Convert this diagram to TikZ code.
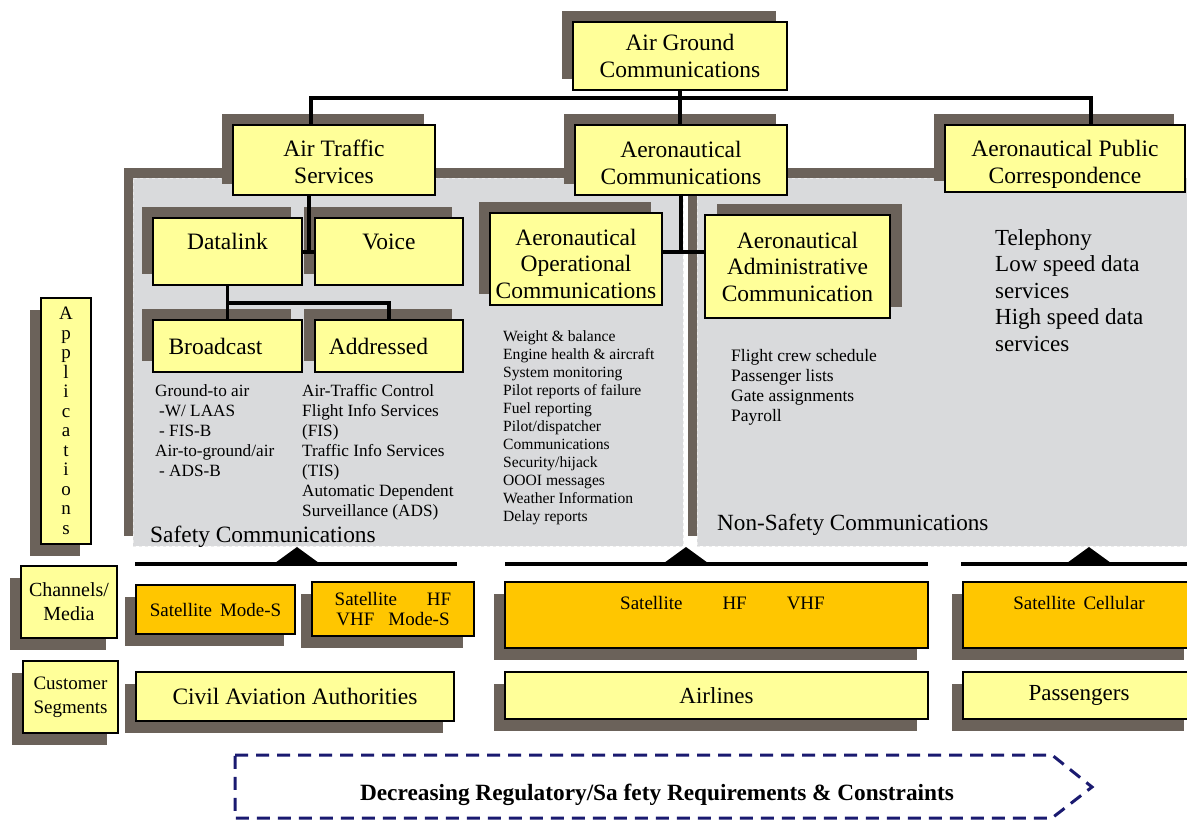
\documentclass[tikz,border=0pt]{standalone}
\usepackage{fontspec}
\setmainfont{Liberation Serif}
\usetikzlibrary{shadows}
\definecolor{boxyellow}{HTML}{FFFF99}
\definecolor{chorange}{HTML}{FFC600}
\definecolor{shadowgray}{HTML}{6B625A}
\definecolor{panelgray}{HTML}{D9DADC}
\definecolor{navy}{HTML}{1A1A70}

\begin{document}
\begin{tikzpicture}[x=1pt,y=-1pt,
    box/.style={draw=black, line width=1.3pt, fill=boxyellow, inner sep=0pt,
        align=center, font=\fontsize{23.5}{26.5}\selectfont},
    chbox/.style={box, fill=chorange, font=\fontsize{19}{19.5}\selectfont},
    shadowtl/.style={drop shadow={shadow xshift=-11pt, shadow yshift=11pt,
        fill=shadowgray, opacity=1}},
    shadowtr/.style={drop shadow={shadow xshift=12pt, shadow yshift=11pt,
        fill=shadowgray, opacity=1}},
    shadowbl/.style={drop shadow={shadow xshift=-11pt, shadow yshift=-12pt,
        fill=shadowgray, opacity=1}},
    panel/.style={fill=panelgray, draw=white!85!gray, dashed, line width=1pt,
        inner sep=0pt, drop shadow={shadow xshift=-9pt, shadow yshift=10pt,
        fill=shadowgray, opacity=1}},
    link/.style={draw=black, line width=3.8pt},
    bus/.style={draw=black, line width=4pt},
    listtext/.style={anchor=north west, align=left, inner sep=0pt},
    ]
    \useasboundingbox (0,0) rectangle (1187,820);

    % Grey areas
    \node[panel, minimum width=550pt, minimum height=368pt] (safety) at (408,362) {};
    \node[panel, minimum width=498pt, minimum height=368pt] (nonsafety) at (946,362) {};

    % Top of the tree
    \node[box, shadowtl, minimum width=214pt, minimum height=68pt] (agc) at (680,56)
        {Air Ground\\Communications};
    \node[box, shadowtl, minimum width=202pt, minimum height=70pt] (ats) at (334,160)
        {\rule{0pt}{20pt}Air Traffic\\Services};
    \node[box, shadowtl, minimum width=212pt, minimum height=70pt] (ac) at (681,160)
        {\rule{0pt}{22pt}Aeronautical\\Communications};
    \node[box, shadowtl, minimum width=240pt, minimum height=67pt] (apc) at (1065,158.5)
        {\rule{0pt}{28pt}Aeronautical Public\\Correspondence};

    % Air traffic services
    \node[box, shadowtl, minimum width=149pt, text height=31pt, text depth=36pt]
        (datalink) at (227.5,251.5) {Datalink};
    \node[box, shadowtl, minimum width=148pt, text height=31pt, text depth=36pt]
        (voice) at (389,251.5) {Voice};
    \node[box, shadowtl, minimum width=149pt, minimum height=52pt] (broadcast) at (227.5,346)
        {Broadcast\kern24pt};
    \node[box, shadowtl, minimum width=148pt, minimum height=52pt] (addressed) at (389,346)
        {Addressed\kern21pt};

    % Aeronautical communications
    \node[box, shadowtl, minimum width=172pt, minimum height=92pt] (aoc) at (576,259)
        {\rule{0pt}{26pt}Aeronautical\\Operational\\Communications};
    \node[box, shadowtr, minimum width=185pt, minimum height=103pt] (aac) at (797.5,266.5)
        {Aeronautical\\Administrative\\Communication};

    % Row titles
    \node[box, shadowbl, minimum width=50pt, minimum height=246pt,
        font=\fontsize{19}{19.5}\selectfont] (apps) at (66,421)
        {A\\p\\p\\l\\i\\c\\a\\t\\i\\o\\n\\s};
    \node[box, shadowbl, minimum width=96pt, minimum height=72pt,
        font=\fontsize{20}{24}\selectfont] (channels) at (69,602) {Channels/\\Media};
    \node[box, shadowbl, minimum width=95pt, minimum height=72pt,
        font=\fontsize{19}{24}\selectfont] (segments) at (70.5,697) {Customer\\Segments};

    % Channels / media
    \node[chbox, shadowbl, minimum width=159pt, minimum height=49pt] (satmodes) at (215.5,609.5)
        {Satellite\hspace{8pt}Mode-S};
    \node[chbox, shadowbl, minimum width=162pt, minimum height=54pt] (sathf) at (393,609)
        {Satellite\hspace{30pt}HF\\VHF\hspace{14pt}Mode-S};
    \node[chbox, shadowbl, minimum width=423pt, text height=27pt, text depth=39pt]
        (satvhf) at (716.5,615) {\hspace{12pt}Satellite\hspace{40pt}HF\hspace{40pt}VHF};
    \node[chbox, shadowbl, minimum width=232pt, text height=27pt, text depth=39pt]
        (satcell) at (1079,615) {Satellite\hspace{8pt}Cellular};

    % Customer segments
    \node[box, shadowbl, minimum width=318pt, minimum height=49pt, font=\fontsize{23.5}{26}\selectfont]
        (caa) at (295,696.5) {Civil Aviation Authorities};
    \node[box, shadowbl, minimum width=423pt, minimum height=47pt, font=\fontsize{23}{26}\selectfont]
        (airlines) at (716.5,695.5) {Airlines};
    \node[box, shadowbl, minimum width=232pt, minimum height=47pt, font=\fontsize{23}{26}\selectfont]
        (passengers) at (1079,695.5) {Passengers};

    % Connectors
    \coordinate (busL) at (311,98);
    \coordinate (busR) at (1091,98);
    \coordinate (dvjoin) at (309,252);
    \coordinate (bajoin) at (228,303);
    \coordinate (opjoin) at (681,252);
    \draw[link] (agc.south) -- (agc.south |- ac.north);
    \draw[link] (busL |- ats.north) -- (busL) -- (busR) -- (busR |- apc.north);
    \draw[link] (dvjoin |- ats.south) -- (dvjoin);
    \draw[link] (datalink.east |- dvjoin) -- (voice.west |- dvjoin);
    \draw[link] (datalink.south) -- (broadcast.north);
    \draw[link] (datalink.south |- bajoin) -| (addressed.north);
    \draw[link] (ac.south) -- (opjoin);
    \draw[link] (aoc.east |- opjoin) -- (aac.west |- opjoin);

    % Bars under the grey areas
    \coordinate (barA) at (135,564);
    \coordinate (barB) at (457,564);
    \coordinate (barC) at (505,564);
    \coordinate (barD) at (928,564);
    \coordinate (barE) at (961,564);
    \coordinate (barF) at (1195,564);
    \draw[bus] (barA) -- (barB);
    \draw[bus] (barC) -- (barD);
    \draw[bus] (barE) -- (barF);
    \fill (297,547) -- (319,563) -- (275,563) -- cycle;
    \fill (686,547) -- (708,563) -- (664,563) -- cycle;
    \fill (1089,547) -- (1111,563) -- (1067,563) -- cycle;

    % Texts in the grey areas
    \node[listtext, font=\fontsize{17.2}{20}\selectfont] (bcastlist) at (155,384)
        {Ground-to air\\\hspace{4pt}-W/ LAAS\\\hspace{4pt}- FIS-B\\Air-to-ground/air\\\hspace{4pt}- ADS-B};
    \node[listtext, font=\fontsize{17.2}{20}\selectfont] (addrlist) at (302,384)
        {Air-Traffic Control\\Flight Info Services\\(FIS)\\Traffic Info Services\\(TIS)\\Automatic Dependent\\Surveillance (ADS)};
    \node[listtext, font=\fontsize{15.6}{18}\selectfont] (aoclist) at (503,330)
        {Weight \& balance\\Engine health \& aircraft\\System monitoring\\Pilot reports of failure\\Fuel reporting\\Pilot/dispatcher\\Communications\\Security/hijack\\OOOI messages\\Weather Information\\Delay reports};
    \node[listtext, font=\fontsize{17.5}{20}\selectfont] (aaclist) at (731,349)
        {Flight crew schedule\\Passenger lists\\Gate assignments\\Payroll};
    \node[listtext, font=\fontsize{23}{26.5}\selectfont] (apclist) at (995,229)
        {Telephony\\Low speed data\\services\\High speed data\\services};
    \node[anchor=base west, inner sep=0pt, font=\fontsize{23.4}{26}\selectfont] (safetytitle) at (150,542)
        {Safety Communications};
    \node[anchor=base west, inner sep=0pt, font=\fontsize{23.2}{26}\selectfont] (nonsafetytitle) at (717,530)
        {Non-Safety Communications};

    % Dashed arrow
    \draw[navy, line width=3pt, dash pattern=on 13pt off 8pt]
        (235,755) -- (1052,755) -- (1092,787) -- (1052,818) -- (235,818) -- cycle;
    \node[font=\bfseries\fontsize{23.3}{26}\selectfont] (decreasing) at (657,795)
        {Decreasing Regulatory/Sa fety Requirements \& Constraints};
\end{tikzpicture}
\end{document}
